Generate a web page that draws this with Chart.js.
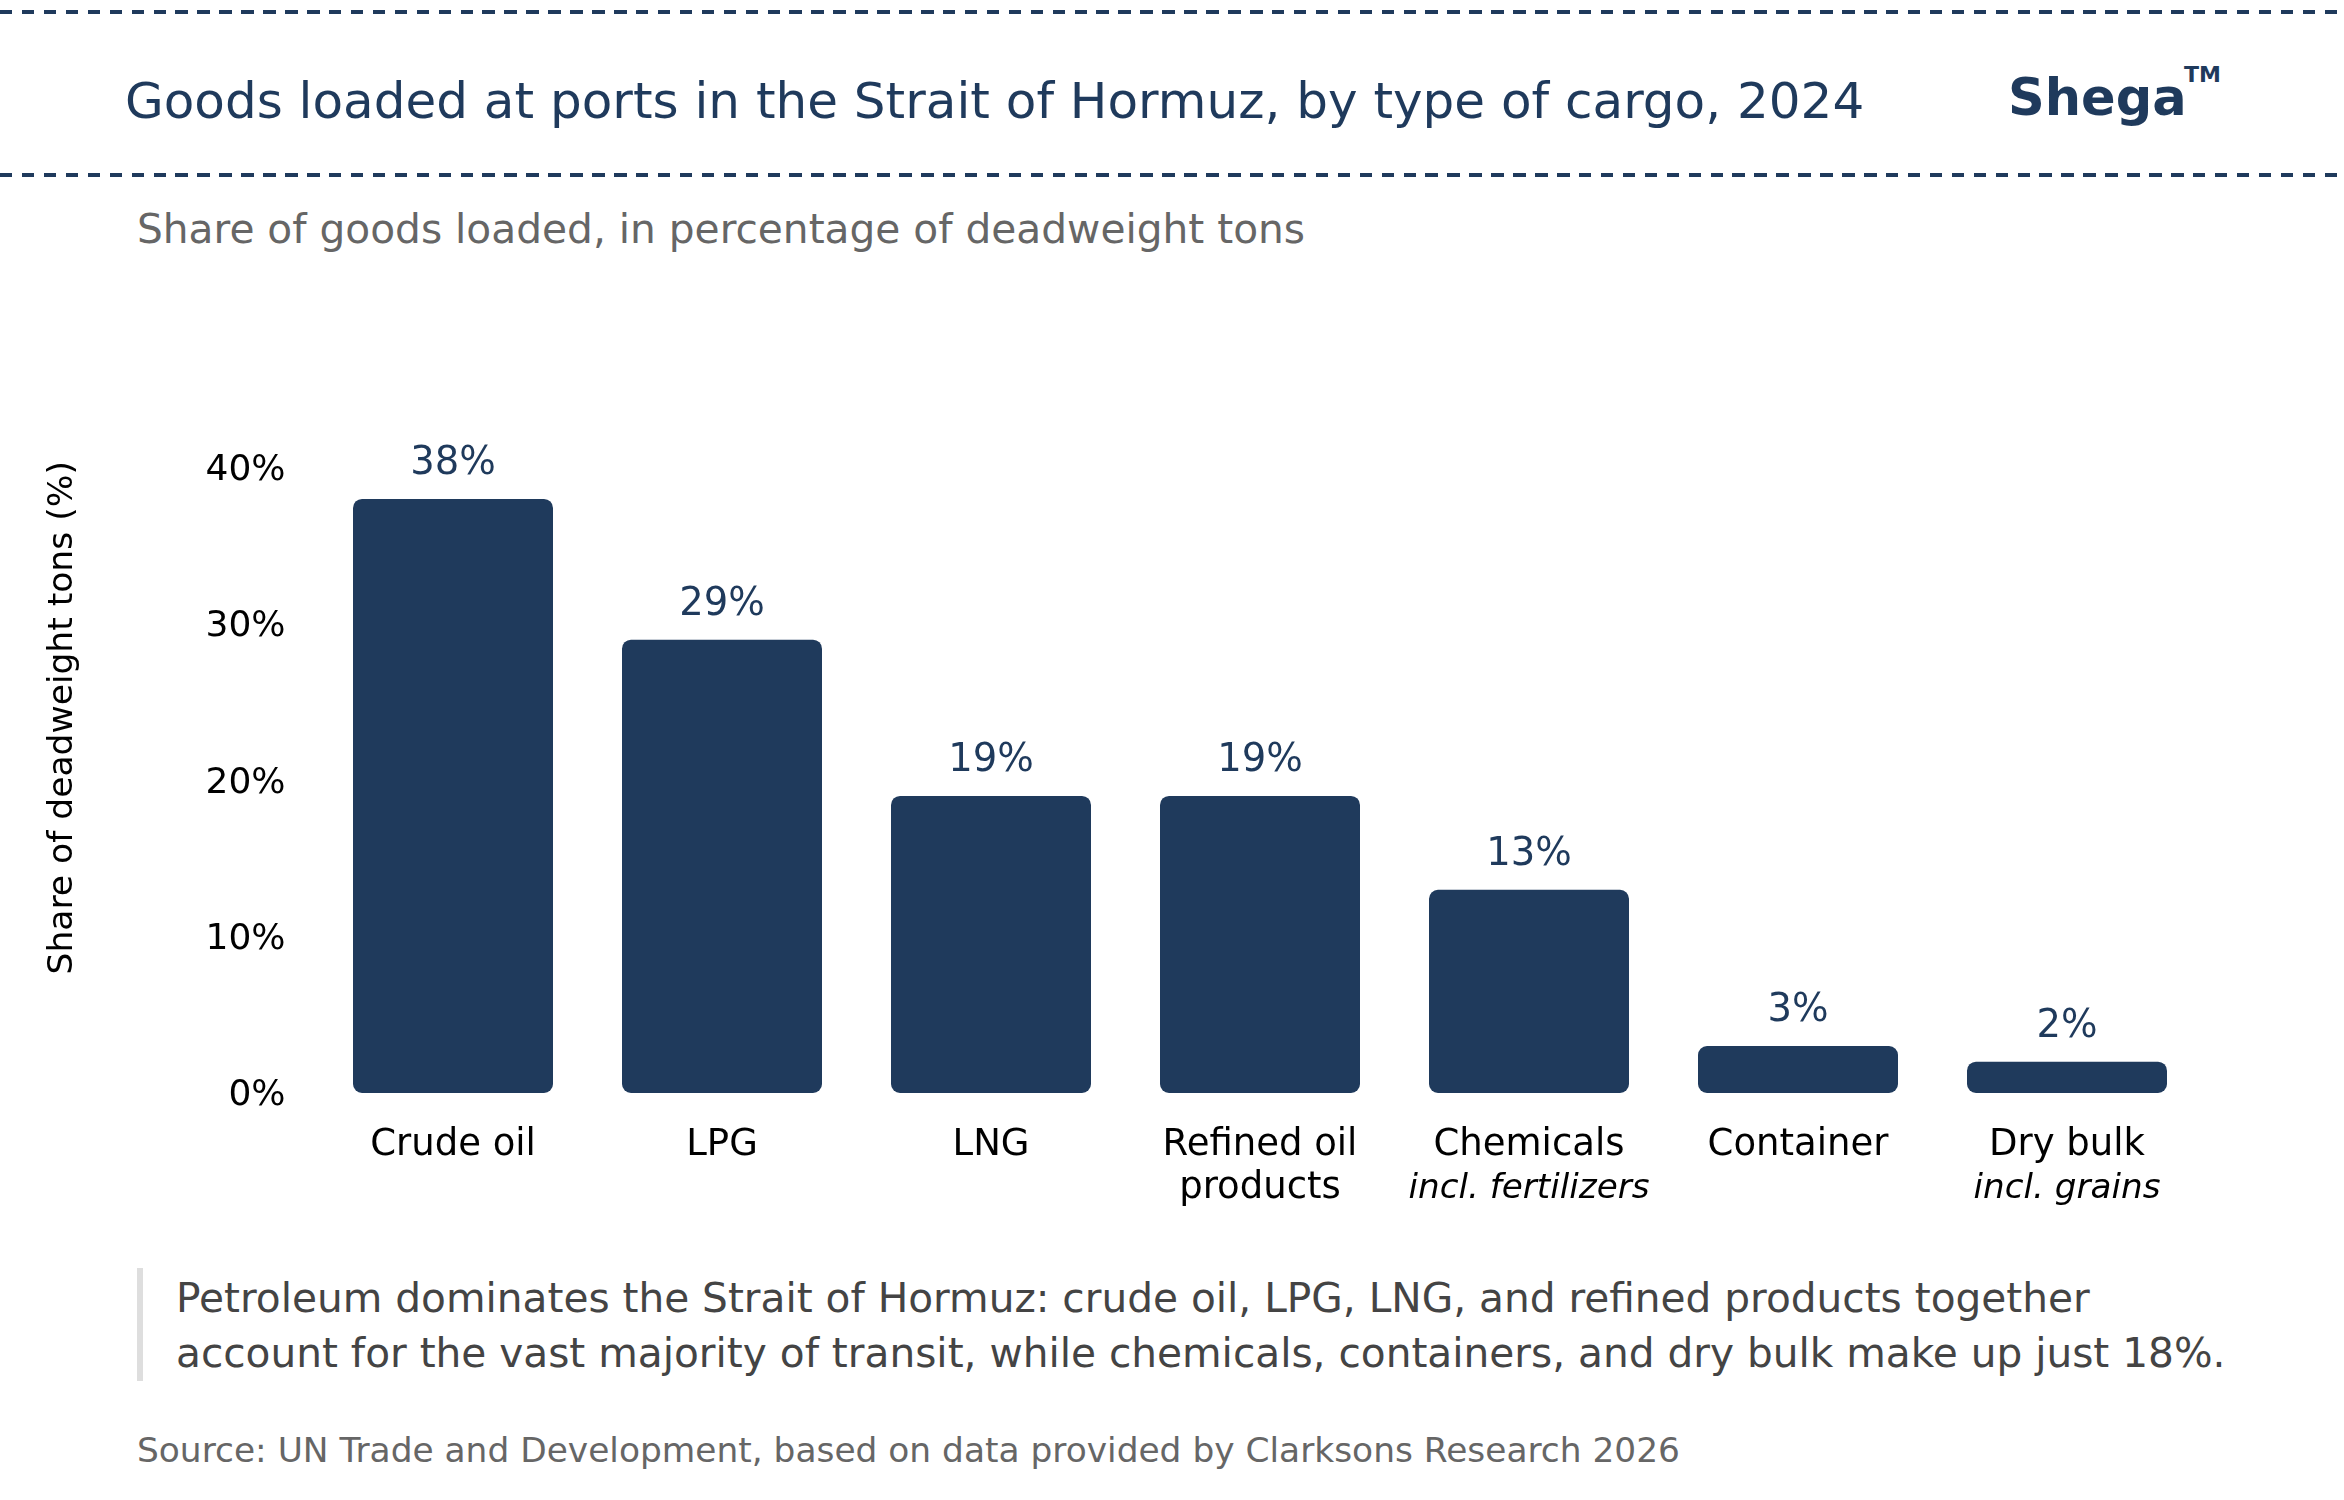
<!DOCTYPE html>
<html>
<head>
<meta charset="utf-8">
<script src="https://cdn.jsdelivr.net/npm/chart.js@4"></script>
<style>
  html, body { margin: 0; padding: 0; background: #ffffff; }
  body { width: 2344px; height: 1500px; position: relative; overflow: hidden; font-family: "DejaVu Sans", sans-serif; }
  #overlay { position: absolute; left: 0; top: 0; }
  #chartWrap { position: absolute; left: 0; top: 288px; width: 2344px; height: 932px; }
  .dash { position: absolute; left: 0; width: 2344px; height: 4px;
    background: repeating-linear-gradient(90deg, #1f3a5c 0px, #1f3a5c 12.5px, transparent 12.5px, transparent 21.93px); }
</style>
</head>
<body>
<div class="dash" style="top:10px"></div>
<div class="dash" style="top:173px"></div>
<svg id="overlay" width="2344" height="1500" xmlns="http://www.w3.org/2000/svg" font-family="DejaVu Sans">
  <text x="125" y="118" font-size="50" fill="#1f3a5c">Goods loaded at ports in the Strait of Hormuz, by type of cargo, 2024</text>
  <text x="2008" y="115" font-size="51" font-weight="bold" fill="#1f3a5c">Shega</text>
  <text x="2184" y="82" font-size="22" font-weight="bold" fill="#1f3a5c">TM</text>
  <text x="137" y="243" font-size="40.7" fill="#666666">Share of goods loaded, in percentage of deadweight tons</text>
  <rect x="137" y="1268" width="6" height="113" fill="#dedede"></rect>
  <text x="176" y="1312" font-size="40.65" fill="#444444">Petroleum dominates the Strait of Hormuz: crude oil, LPG, LNG, and refined products together</text>
  <text x="176" y="1367" font-size="40.65" fill="#444444">account for the vast majority of transit, while chemicals, containers, and dry bulk make up just 18%.</text>
  <text x="137" y="1462" font-size="34.4" fill="#666666">Source: UN Trade and Development, based on data provided by Clarksons Research 2026</text>
</svg>
<div id="chartWrap"><canvas id="c" width="2344" height="932"></canvas></div>
<script>
// ---- data ----
const categories = [["Crude oil"], ["LPG"], ["LNG"], ["Refined oil", "products"], ["Chemicals"], ["Container"], ["Dry bulk"]];
const subLabels = ["", "", "", "", "incl. fertilizers", "", "incl. grains"];
const shares = [38, 29, 19, 19, 13, 3, 2];
const yTicks = [0, 10, 20, 30, 40];

// ---- styles ----
const NAVY = "#1f3a5c";
const FONT = '"DejaVu Sans", sans-serif';
const XTICK_SIZE = 37, XTICK_LH = 43, XTICK_PAD = 31;

const valueLabelPlugin = {
  id: "valueLabels",
  afterDatasetsDraw(chart) {
    const ctx = chart.ctx;
    const meta = chart.getDatasetMeta(0);
    ctx.save();
    ctx.font = "38.5px " + FONT;
    ctx.fillStyle = NAVY;
    ctx.textAlign = "center";
    ctx.textBaseline = "alphabetic";
    meta.data.forEach((bar, i) => {
      ctx.fillText(shares[i] + "%", bar.x, bar.y - 25);
    });
    const xs = chart.scales.x;
    ctx.font = "italic 34.2px " + FONT;
    ctx.fillStyle = "#000000";
    ctx.textBaseline = "alphabetic";
    subLabels.forEach((s, i) => {
      if (s) ctx.fillText(s, xs.getPixelForValue(i), xs.top + 105);
    });
    ctx.restore();
  }
};

new Chart(document.getElementById("c"), {
  type: "bar",
  data: {
    labels: categories,
    datasets: [{
      data: shares,
      backgroundColor: NAVY,
      borderRadius: 9,
      borderSkipped: false,
      barPercentage: 200 / 269,
      categoryPercentage: 1.0
    }]
  },
  options: {
    responsive: false,
    devicePixelRatio: 1,
    animation: false,
    events: [],
    layout: { padding: { left: 42.6, right: 142.5, top: 0, bottom: 0 } },
    plugins: { legend: { display: false }, tooltip: { enabled: false }, title: { display: false } },
    scales: {
      x: {
        grid: { display: false, drawTicks: false },
        border: { display: false },
        ticks: {
          color: "#000000",
          font: { family: FONT, size: XTICK_SIZE, lineHeight: XTICK_LH / XTICK_SIZE },
          padding: XTICK_PAD,
          maxRotation: 0, autoSkip: false
        },
        afterFit(scale) { scale.height = 127; }
      },
      y: {
        min: 0, max: 48,
        grid: { display: false, drawTicks: false },
        border: { display: false },
        afterBuildTicks(scale) { scale.ticks = yTicks.map(v => ({ value: v })); },
        ticks: {
          color: "#000000",
          font: { family: FONT, size: 36 },
          padding: 33,
          labelOffset: 3,
          callback: v => v + "%"
        },
        title: {
          display: true,
          text: "Share of deadweight tons (%)",
          color: "#000000",
          font: { family: FONT, size: 34.5, lineHeight: 1.2 },
          padding: { top: 0, bottom: 0 }
        },
        afterFit(scale) { scale.width = 318.5 - 42.6; }
      }
    }
  },
  plugins: [valueLabelPlugin]
});
</script>
</body>
</html>
